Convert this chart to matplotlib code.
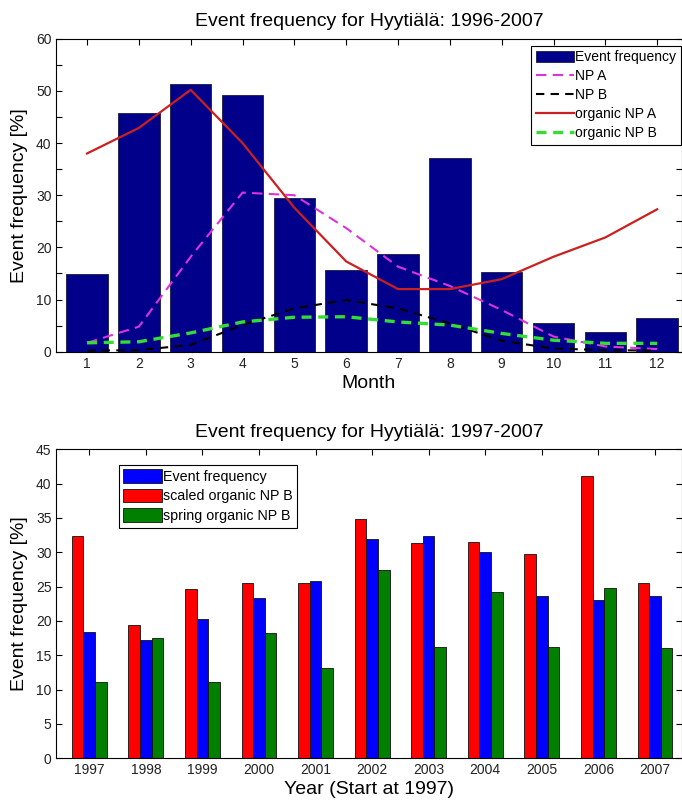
import matplotlib.pyplot as plt
import numpy as np
from matplotlib.ticker import MultipleLocator

# monthly event statistics, Hyytiala 1996-2007
months = np.arange(1, 13)
event_freq = [14.8, 45.7, 51.4, 49.3, 29.4, 15.7, 18.7, 37.2, 15.3, 5.5, 3.7, 6.4]
np_a = [1.7, 4.8, 18.2, 30.5, 30.0, 23.7, 16.3, 12.6, 8.0, 2.9, 1.0, 0.5]
np_b = [0.2, 0.3, 1.3, 5.1, 8.3, 9.9, 8.3, 5.4, 2.1, 0.6, 0.3, 0.2]
org_np_a = [38.0, 42.9, 50.2, 40.0, 27.6, 17.3, 12.0, 12.0, 13.9, 18.2, 21.9, 27.3]
org_np_b = [1.7, 1.9, 3.6, 5.7, 6.6, 6.7, 5.7, 5.1, 3.5, 2.2, 1.6, 1.6]

# yearly statistics 1997-2007
years = ['1997', '1998', '1999', '2000', '2001', '2002', '2003', '2004', '2005', '2006', '2007']
year_event = [18.4, 17.2, 20.3, 23.4, 25.8, 32.0, 32.3, 30.1, 23.6, 23.0, 23.6]
year_scaled = [32.3, 19.4, 24.7, 25.5, 25.5, 34.9, 31.3, 31.5, 29.7, 41.1, 25.5]
year_spring = [11.1, 17.5, 11.1, 18.3, 13.2, 27.4, 16.2, 24.2, 16.2, 24.8, 16.0]

plt.rcParams['font.family'] = ['Liberation Sans', 'DejaVu Sans']

fig = plt.figure(figsize=(6.82, 8.0), dpi=100)
fig.set_facecolor('w')

def style_axes(ax):
    ax.tick_params(direction='in', top=True, right=True, labelsize=10,
                   labelcolor='#222222', length=4, width=0.8)
    ax.tick_params(which='minor', direction='in', right=True, length=4, width=0.8)
    for s in ax.spines.values():
        s.set_linewidth(0.8)

# ---------------- monthly plot ----------------
ax1 = fig.add_axes([0.0828, 0.5604, 0.9165, 0.3912])
b1 = ax1.bar(months, event_freq, width=0.8, color='#00008B', edgecolor='#1a1a40',
             linewidth=0.6, label='Event frequency', zorder=2)
l1, = ax1.plot(months, np_a, color='#dd33dd', linestyle=(0, (5, 3)), linewidth=1.5, label='NP A', zorder=3)
l2, = ax1.plot(months, np_b, color='black', linestyle=(0, (4, 3)), linewidth=1.5, label='NP B', zorder=3)
l3, = ax1.plot(months, org_np_a, color='#cc1f1f', linewidth=1.6, label='organic NP A', zorder=3)
l4, = ax1.plot(months, org_np_b, color='#33dd33', linestyle=(0, (3, 2)), linewidth=2.4, label='organic NP B', zorder=3)

ax1.set_xlim(0.41, 12.47)
ax1.set_ylim(0, 60)
ax1.set_xticks(months)
ax1.yaxis.set_major_locator(MultipleLocator(10))
ax1.yaxis.set_minor_locator(MultipleLocator(5))
style_axes(ax1)
ax1.set_title('Event frequency for Hyytiälä: 1996-2007', fontsize=14, pad=9)
ax1.set_xlabel('Month', fontsize=14, labelpad=3)
ax1.set_ylabel('Event frequency [%]', fontsize=14, labelpad=6)
leg1 = ax1.legend(handles=[b1, l1, l2, l3, l4], loc='upper right',
                  bbox_to_anchor=(0.999, 0.978), fontsize=10,
                  handlelength=2.7, handleheight=0.9, handletextpad=0.1,
                  labelspacing=0.36, borderpad=0.35, borderaxespad=0.0,
                  fancybox=False, framealpha=1, edgecolor='black')
leg1.get_frame().set_linewidth(0.8)

# ---------------- yearly plot ----------------
ax2 = fig.add_axes([0.0828, 0.0521, 0.9165, 0.3863])
x = np.arange(len(years))
w = 0.205
ax2.bar(x, year_event, width=w, color='#0000ff', edgecolor='#111111',
        linewidth=0.6, label='Event frequency', zorder=2)
ax2.bar(x - w, year_scaled, width=w, color='#ff0000', edgecolor='#111111',
        linewidth=0.6, label='scaled organic NP B', zorder=2)
ax2.bar(x + w, year_spring, width=w, color='#007f00', edgecolor='#111111',
        linewidth=0.6, label='spring organic NP B', zorder=2)

ax2.set_xlim(-0.58, 10.47)
ax2.set_ylim(0, 45)
ax2.set_xticks(x)
ax2.set_xticklabels(years)
ax2.yaxis.set_major_locator(MultipleLocator(5))
style_axes(ax2)
ax2.set_title('Event frequency for Hyytiälä: 1997-2007', fontsize=14, pad=9)
ax2.set_xlabel('Year (Start at 1997)', fontsize=14, labelpad=3)
ax2.set_ylabel('Event frequency [%]', fontsize=14, labelpad=6)
leg2 = ax2.legend(loc='upper left', bbox_to_anchor=(0.1, 0.95), fontsize=10.3,
                  handlelength=2.7, handleheight=1.1, handletextpad=0.1,
                  labelspacing=0.35, borderpad=0.3, borderaxespad=0.0,
                  fancybox=False, framealpha=1, edgecolor='black')
leg2.get_frame().set_linewidth(0.8)

plt.savefig('out.png', dpi=100)
